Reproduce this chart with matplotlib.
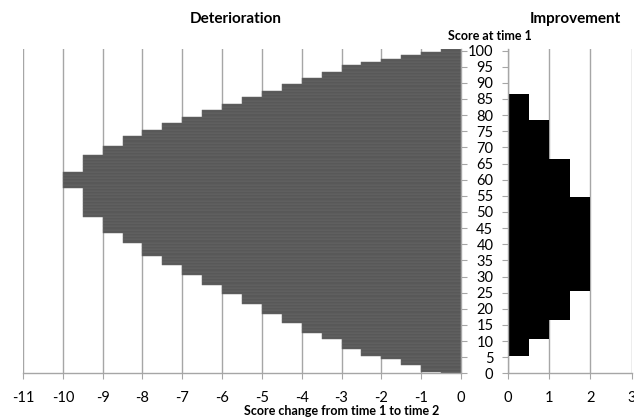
import matplotlib
matplotlib.use("Agg")
import matplotlib.pyplot as plt

plt.rcParams['font.family'] = ['Lato', 'DejaVu Sans']
plt.rcParams['axes.unicode_minus'] = False

# score at time 1 (one bar per score)
scores = list(range(0, 101))

# largest deterioration (score change) for each score at time 1
deterioration = [
    -0.5, -1, -1, -1.5, -1.5, -2, -2.5, -2.5, -3, -3,
    -3, -3.5, -3.5, -4, -4, -4, -4.5, -4.5, -4.5, -5,
    -5, -5, -5.5, -5.5, -5.5, -6, -6, -6, -6.5, -6.5,
    -6.5, -7, -7, -7, -7.5, -7.5, -7.5, -8, -8, -8,
    -8, -8.5, -8.5, -8.5, -9, -9, -9, -9, -9, -9.5,
    -9.5, -9.5, -9.5, -9.5, -9.5, -9.5, -9.5, -9.5, -10, -10,
    -10, -10, -10, -9.5, -9.5, -9.5, -9.5, -9.5, -9, -9,
    -9, -8.5, -8.5, -8.5, -8, -8, -7.5, -7.5, -7, -7,
    -6.5, -6.5, -6, -6, -5.5, -5.5, -5, -5, -4.5, -4.5,
    -4, -4, -3.5, -3.5, -3, -3, -2.5, -2, -1.5, -1,
    -0.5,
]

# largest improvement for each score at time 1
improvement = [
    0, 0, 0, 0, 0, 0, 0.5, 0.5, 0.5, 0.5,
    0.5, 1, 1, 1, 1, 1, 1, 1.5, 1.5, 1.5,
    1.5, 1.5, 1.5, 1.5, 1.5, 1.5, 2, 2, 2, 2,
    2, 2, 2, 2, 2, 2, 2, 2, 2, 2,
    2, 2, 2, 2, 2, 2, 2, 2, 2, 2,
    2, 2, 2, 2, 2, 1.5, 1.5, 1.5, 1.5, 1.5,
    1.5, 1.5, 1.5, 1.5, 1.5, 1.5, 1.5, 1, 1, 1,
    1, 1, 1, 1, 1, 1, 1, 1, 1, 0.5,
    0.5, 0.5, 0.5, 0.5, 0.5, 0.5, 0.5, 0, 0, 0,
    0, 0, 0, 0, 0, 0, 0, 0, 0, 0,
    0,
]

left_ticks = list(range(-11, 1))
right_ticks = [0, 1, 2, 3]
score_ticks = list(range(0, 101, 5))

grid_col = '#a6a6a6'
W, H = 634, 417

fig = plt.figure(figsize=(W / 100, H / 100), dpi=100)

y_bot, y_top = 373.4, 48.9
ax1 = fig.add_axes([23 / W, (H - y_bot) / H, (461 - 23) / W, (y_bot - y_top) / H])
ax2 = fig.add_axes([508 / W, (H - y_bot) / H, (631.5 - 508) / W, (y_bot - y_top) / H])

# deterioration panel
ax1.barh(scores, deterioration, height=1.0, color='#585858',
         edgecolor='#6b6b6b', linewidth=0.35, zorder=2)
ax1.set_xlim(-11, 0)
ax1.set_ylim(0, 100.5)
ax1.set_xticks(left_ticks)
ax1.set_xticklabels([str(t) for t in left_ticks])
ax1.grid(axis='x', color=grid_col, linewidth=1.0, zorder=0)
ax1.set_axisbelow(True)
for s in ['top', 'left']:
    ax1.spines[s].set_visible(False)
for s in ['bottom', 'right']:
    ax1.spines[s].set_color(grid_col)
    ax1.spines[s].set_linewidth(1.0)
ax1.yaxis.tick_right()
ax1.set_yticks(score_ticks)
ax1.tick_params(axis='y', which='both', length=4.5, color=grid_col,
                labelright=False, labelleft=False)
ax1.tick_params(axis='x', length=4.5, color=grid_col, pad=8,
                labelsize=10.5, labelcolor='black')

# improvement panel
ax2.barh(scores, improvement, height=1.0, color='black', linewidth=0, zorder=2)
ax2.set_xlim(0, 3)
ax2.set_ylim(0, 100.5)
ax2.set_xticks(right_ticks)
ax2.set_yticks(score_ticks)
ax2.grid(axis='x', color=grid_col, linewidth=1.0, zorder=0)
ax2.set_axisbelow(True)
for s in ['top', 'right']:
    ax2.spines[s].set_visible(False)
for s in ['bottom', 'left']:
    ax2.spines[s].set_color(grid_col)
    ax2.spines[s].set_linewidth(1.0)
ax2.tick_params(axis='x', length=4.5, color=grid_col, pad=8,
                labelsize=10.5, labelcolor='black')
ax2.tick_params(axis='y', length=4.5, color=grid_col, pad=6,
                labelsize=10.5, labelcolor='black')

# headings and axis titles
fig.text(236 / W, 1 - 19 / H, 'Deterioration', ha='center', va='center',
         fontsize=11, fontweight='bold')
fig.text(575 / W, 1 - 19 / H, 'Improvement', ha='center', va='center',
         fontsize=11, fontweight='bold')
fig.text(490 / W, 1 - 36 / H, 'Score at time 1', ha='center', va='center',
         fontsize=9, fontweight='bold')
fig.text(342 / W, 1 - 411 / H, 'Score change from time 1 to time 2',
         ha='center', va='center', fontsize=9, fontweight='bold')

fig.savefig('out.png', dpi=100, facecolor='white')
